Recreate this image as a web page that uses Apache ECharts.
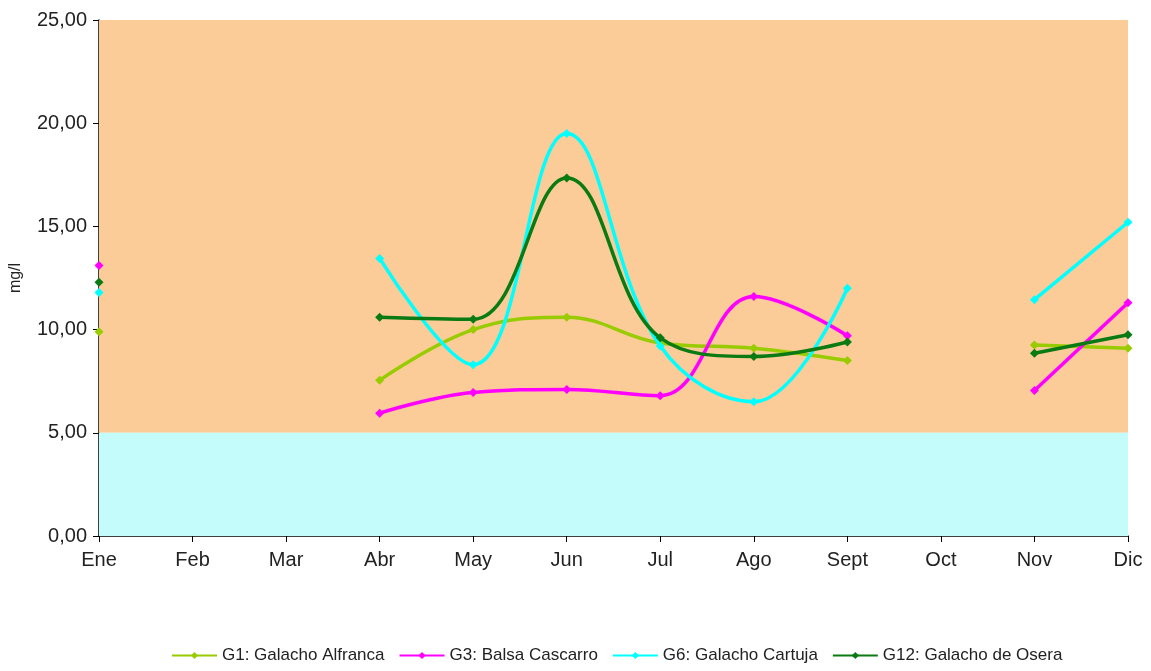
<!DOCTYPE html>
<html><head><meta charset="utf-8">
<script src="https://cdn.jsdelivr.net/npm/echarts@6/dist/echarts.min.js"></script>
<style>html,body{margin:0;padding:0;background:#fff}#c{width:1151px;height:671px}</style>
</head><body><div id="c"></div>
<script>
const months = ['Ene','Feb','Mar','Abr','May','Jun','Jul','Ago','Sept','Oct','Nov','Dic'];
const g1  = [9.9, null, null, 7.55, 10.0, 10.6, 9.35, 9.1, 8.5, null, 9.25, 9.1];
const g3  = [13.1, null, null, 5.95, 6.95, 7.1, 6.8, 11.6, 9.7, null, 7.05, 11.3];
const g6  = [11.8, null, null, 13.45, 8.3, 19.5, 9.2, 6.5, 12.0, null, 11.45, 15.2];
const g12 = [12.3, null, null, 10.6, 10.5, 17.35, 9.6, 8.7, 9.4, null, 8.85, 9.75];
const names = ['G1: Galacho Alfranca','G3: Balsa Cascarro','G6: Galacho Cartuja','G12: Galacho de Osera'];
const colors = ['#99CC00','#FF00FF','#00FFFF','#0A7A12'];
const bands = [[5,25,'#FBCB98'],[0,5,'#C4FCFC']];

const chart = echarts.init(document.getElementById('c'));
const mkSeries = (name, data, color, idx) => ({
  name, type:'line', data, smooth:0.4, connectNulls:false,
  symbol:'diamond', symbolSize:9, showSymbol:true,
  lineStyle:{color, width:3.5}, itemStyle:{color},
  z: 3+idx,
  markArea: idx===0 ? {silent:true, itemStyle:{opacity:1}, data: bands.map(b=>[{yAxis:b[0], itemStyle:{color:b[2]}},{yAxis:b[1]}])} : undefined
});
chart.setOption({
  animation:false,
  textStyle:{fontFamily:'Liberation Sans, Arial, sans-serif'},
  color: colors,
  grid:{left:97, right:23, top:20, bottom:135},
  xAxis:{type:'category', data:months, boundaryGap:false,
    axisLine:{lineStyle:{color:'#000', width:1.5}},
    axisTick:{show:true, alignWithLabel:true, length:6, lineStyle:{color:'#000'}},
    axisLabel:{color:'#222', fontSize:20, margin:14, showMinLabel:true, showMaxLabel:true, interval:0},
    splitLine:{show:false}},
  yAxis:{type:'value', min:0, max:25, interval:5, name:'mg/l', nameLocation:'middle', nameGap:75, nameRotate:90,
    nameTextStyle:{color:'#222', fontSize:16},
    axisLine:{show:true, lineStyle:{color:'#000', width:1.5}},
    axisTick:{show:true, length:6, lineStyle:{color:'#000'}},
    axisLabel:{color:'#222', fontSize:20, margin:12, formatter:v=>v.toFixed(2).replace('.',',')},
    splitLine:{show:false}},
  legend:{bottom:2, left:166, itemWidth:45, itemHeight:9, itemGap:14,
    textStyle:{color:'#222', fontSize:17}, data:names},
  series:[mkSeries(names[0],g1,colors[0],0), mkSeries(names[1],g3,colors[1],1), mkSeries(names[2],g6,colors[2],2), mkSeries(names[3],g12,colors[3],3)]
});
</script></body></html>
